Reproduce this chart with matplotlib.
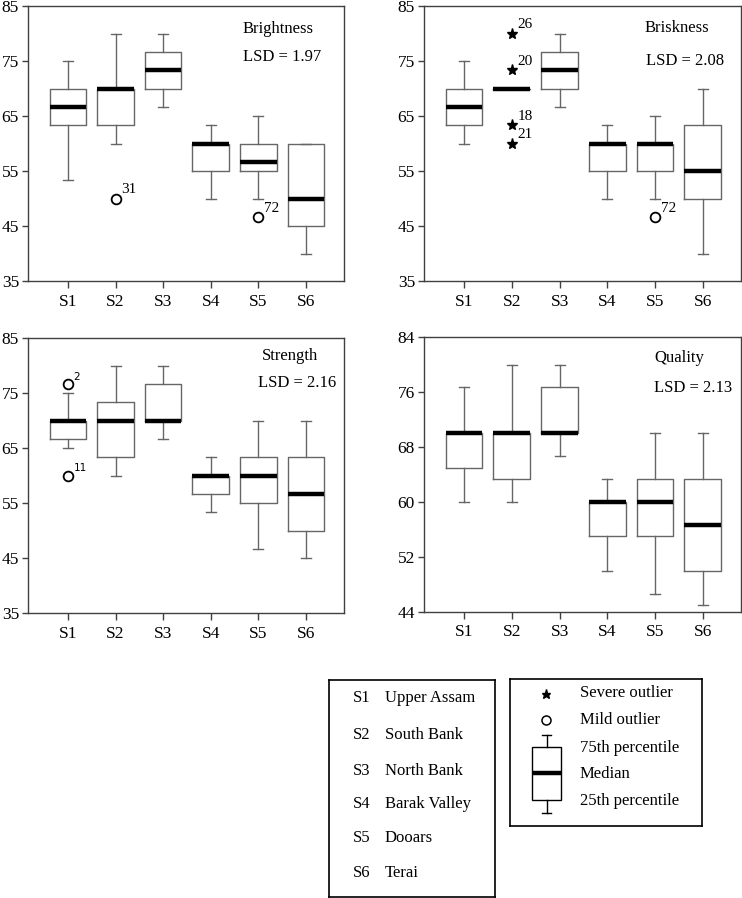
import matplotlib.pyplot as plt
import numpy as np

plt.rcParams['font.family'] = ['Liberation Serif', 'DejaVu Serif']

groups = ['S1', 'S2', 'S3', 'S4', 'S5', 'S6']
regions = ['Upper Assam', 'South Bank', 'North Bank', 'Barak Valley', 'Dooars', 'Terai']

# Brightness
brightness_whislo = [53.33, 60, 66.67, 50, 50, 40]
brightness_q1 = [63.33, 63.33, 70, 55, 55, 45]
brightness_med = [66.67, 70, 73.33, 60, 56.67, 50]
brightness_q3 = [70, 70, 76.67, 60, 60, 60]
brightness_whishi = [75, 80, 80, 63.33, 65, 60]
brightness_mild = [('S2', 50, '31'), ('S5', 46.67, '72')]
brightness_severe = []

# Briskness
briskness_whislo = [60, 70, 66.67, 50, 50, 40]
briskness_q1 = [63.33, 70, 70, 55, 55, 50]
briskness_med = [66.67, 70, 73.33, 60, 60, 55]
briskness_q3 = [70, 70, 76.67, 60, 60, 63.33]
briskness_whishi = [75, 70, 80, 63.33, 65, 70]
briskness_mild = [('S5', 46.67, '72')]
briskness_severe = [('S2', 80, '26'), ('S2', 73.33, '20'), ('S2', 63.33, '18'), ('S2', 60, '21')]

# Strength
strength_whislo = [65, 60, 66.67, 53.33, 46.67, 45]
strength_q1 = [66.67, 63.33, 70, 56.67, 55, 50]
strength_med = [70, 70, 70, 60, 60, 56.67]
strength_q3 = [70, 73.33, 76.67, 60, 63.33, 63.33]
strength_whishi = [75, 80, 80, 63.33, 70, 70]
strength_mild = [('S1', 76.67, '2'), ('S1', 60, '11')]
strength_severe = []

# Quality
quality_whislo = [60, 60, 66.67, 50, 46.67, 45]
quality_q1 = [65, 63.33, 70, 55, 55, 50]
quality_med = [70, 70, 70, 60, 60, 56.67]
quality_q3 = [70, 70, 76.67, 60, 63.33, 63.33]
quality_whishi = [76.67, 80, 80, 63.33, 70, 70]
quality_mild = []
quality_severe = []

panels = [
    ('Brightness', 'LSD = 1.97', [35, 45, 55, 65, 75, 85],
     (brightness_whislo, brightness_q1, brightness_med, brightness_q3, brightness_whishi),
     brightness_mild, brightness_severe),
    ('Briskness', 'LSD = 2.08', [35, 45, 55, 65, 75, 85],
     (briskness_whislo, briskness_q1, briskness_med, briskness_q3, briskness_whishi),
     briskness_mild, briskness_severe),
    ('Strength', 'LSD = 2.16', [35, 45, 55, 65, 75, 85],
     (strength_whislo, strength_q1, strength_med, strength_q3, strength_whishi),
     strength_mild, strength_severe),
    ('Quality', 'LSD = 2.13', [44, 52, 60, 68, 76, 84],
     (quality_whislo, quality_q1, quality_med, quality_q3, quality_whishi),
     quality_mild, quality_severe),
]

W, H = 742, 898
fig = plt.figure(figsize=(W / 100, H / 100), dpi=100)

# axes rectangles in pixels: left, top, right, bottom
rects = [(28, 6, 344, 281), (424, 6, 741, 281), (28, 338, 344, 613), (424, 337, 741, 612)]
# title / LSD positions in axes fraction
text_pos = [((0.68, 0.915), (0.68, 0.815)),
            ((0.695, 0.92), (0.70, 0.80)),
            ((0.74, 0.935), (0.727, 0.835)),
            ((0.726, 0.925), (0.726, 0.815))]

spine_col = '#404040'
box_col = '#666666'
pos = np.arange(1, len(groups) + 1)

for k, (title, lsd, yticks, st, mild, severe) in enumerate(panels):
    l, t, r, b = rects[k]
    ax = fig.add_axes([l / W, 1 - b / H, (r - l) / W, (b - t) / H])
    stats = []
    for i, g in enumerate(groups):
        stats.append({'whislo': st[0][i], 'q1': st[1][i], 'med': st[2][i],
                      'q3': st[3][i], 'whishi': st[4][i], 'fliers': [], 'label': g})
    ax.bxp(stats, positions=pos, widths=0.77, capwidths=0.21, showfliers=False,
           boxprops=dict(color=box_col, linewidth=1.0),
           whiskerprops=dict(color=box_col, linewidth=1.0),
           capprops=dict(color=box_col, linewidth=1.0),
           medianprops=dict(color='black', linewidth=3.2, solid_capstyle='butt'))

    lab_family = ['DejaVu Sans'] if k == 2 else ['Liberation Serif']
    lab_size = 7.5 if k == 2 else 11
    for g, v, case in mild:
        x = groups.index(g) + 1
        ax.plot(x, v, marker='o', mfc='white', mec='black', mew=1.3, ms=7, ls='none')
        ax.annotate(case, (x, v), xytext=(4, 1.5), textcoords='offset points',
                    fontsize=lab_size, family=lab_family, ha='left', va='bottom')
    for g, v, case in severe:
        x = groups.index(g) + 1
        ax.plot(x, v, marker='*', color='black', ms=8, ls='none')
        ax.annotate(case, (x, v), xytext=(4, 1.5), textcoords='offset points',
                    fontsize=lab_size, family=lab_family, ha='left', va='bottom')

    ax.set_xlim(0.16, 6.8)
    ax.set_ylim(yticks[0], yticks[-1])
    ax.set_yticks(yticks)
    ax.set_xticks(pos)
    ax.set_xticklabels(groups)
    ax.tick_params(axis='y', direction='out', length=4, width=1, color=spine_col,
                   labelsize=12.5, pad=2.5)
    ax.tick_params(axis='x', direction='out', length=5, width=1, color=spine_col,
                   labelsize=12.5, pad=4)
    for s in ax.spines.values():
        s.set_color(spine_col)
        s.set_linewidth(1.0)

    (tx, ty), (lx, ly) = text_pos[k]
    ax.text(tx, ty, title, transform=ax.transAxes, fontsize=12, ha='left', va='center')
    ax.text(lx, ly, lsd, transform=ax.transAxes, fontsize=12, ha='left', va='center')

# Legend 1: site codes
l, t, r, b = 329, 680, 495, 897
lg1 = fig.add_axes([l / W, 1 - b / H, (r - l) / W, (b - t) / H])
lg1.set_xlim(0, r - l)
lg1.set_ylim(b - t, 0)
lg1.set_xticks([])
lg1.set_yticks([])
for s in lg1.spines.values():
    s.set_color('black')
    s.set_linewidth(1.2)
row_y = [18, 55, 91, 124, 158, 193]
for i, (g, name) in enumerate(zip(groups, regions)):
    lg1.text(24, row_y[i], g, fontsize=12, ha='left', va='center')
    lg1.text(56, row_y[i], name, fontsize=12, ha='left', va='center')

# Legend 2: box plot key
l, t, r, b = 510, 679, 702, 826
lg2 = fig.add_axes([l / W, 1 - b / H, (r - l) / W, (b - t) / H])
lg2.set_xlim(0, r - l)
lg2.set_ylim(b - t, 0)
lg2.set_xticks([])
lg2.set_yticks([])
for s in lg2.spines.values():
    s.set_color('black')
    s.set_linewidth(1.2)
lg2.plot(36, 15, marker='*', color='black', ms=6.5)
lg2.plot(36, 41, marker='o', mfc='white', mec='black', mew=1.1, ms=6.5)
lg2.add_patch(plt.Rectangle((22, 68), 29, 53, fill=False, edgecolor='black', linewidth=1.0))
lg2.plot([22, 51], [94, 94], color='black', linewidth=3.2, solid_capstyle='butt')
lg2.plot([36.5, 36.5], [56, 68], color='black', linewidth=1.0)
lg2.plot([36.5, 36.5], [121, 134], color='black', linewidth=1.0)
lg2.plot([32, 41], [56, 56], color='black', linewidth=1.0)
lg2.plot([32, 41], [134, 134], color='black', linewidth=1.0)
key_labels = ['Severe outlier', 'Mild outlier', '75th percentile', 'Median', '25th percentile']
key_y = [14, 41, 69, 95, 122]
for lab, y in zip(key_labels, key_y):
    lg2.text(70, y, lab, fontsize=12, ha='left', va='center')

fig.savefig('out.png', dpi=100)
